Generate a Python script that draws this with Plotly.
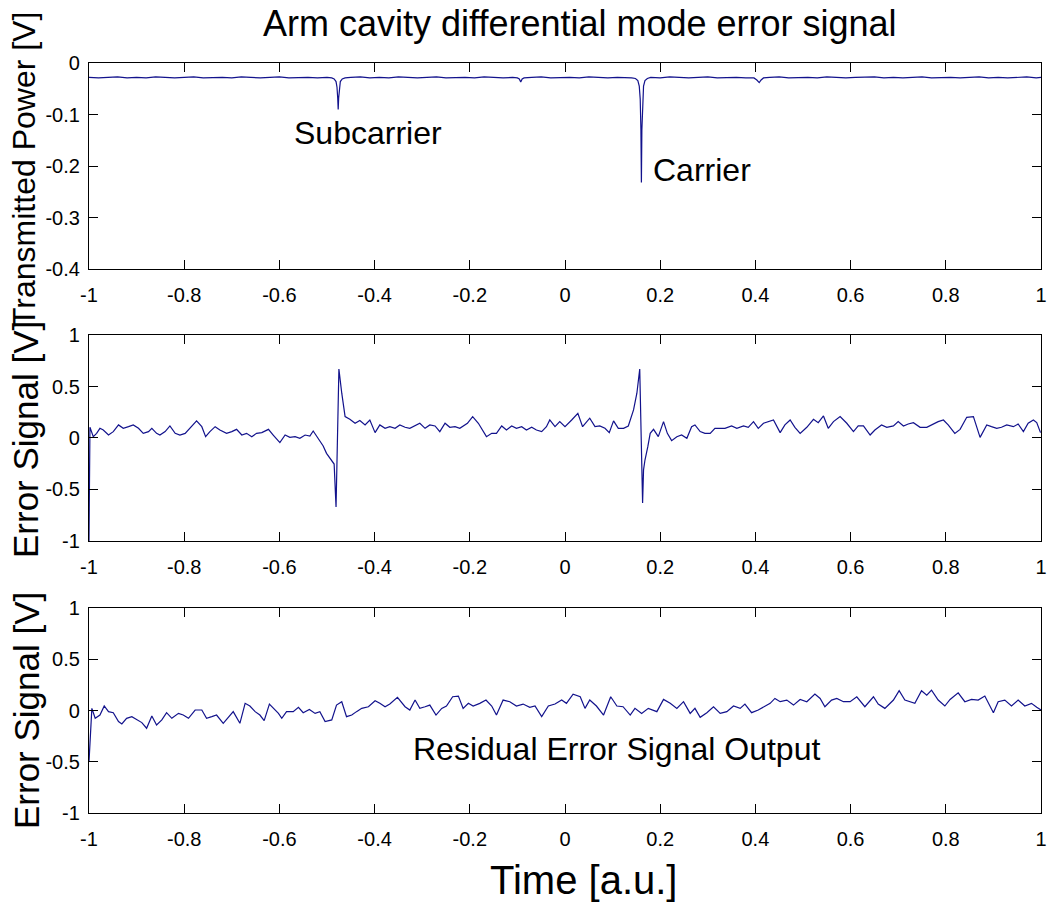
import plotly.graph_objects as go

# ---------------- data ----------------
x_tick_vals = [-1, -0.8, -0.6, -0.4, -0.2, 0, 0.2, 0.4, 0.6, 0.8, 1]
x_tick_text = ["-1", "-0.8", "-0.6", "-0.4", "-0.2", "0", "0.2", "0.4", "0.6", "0.8", "1"]
top_tick_vals = [0, -0.1, -0.2, -0.3, -0.4]
top_tick_text = ["0", "-0.1", "-0.2", "-0.3", "-0.4"]
err_tick_vals = [1, 0.5, 0, -0.5, -1]
err_tick_text = ["1", "0.5", "0", "-0.5", "-1"]

# Transmitted power trace
top_x = [-1.000, -0.980, -0.960, -0.940, -0.920, -0.900, -0.880, -0.860, -0.840, -0.820,
         -0.800, -0.780, -0.760, -0.740, -0.720, -0.700, -0.680, -0.660, -0.640, -0.620,
         -0.600, -0.580, -0.560, -0.540, -0.520, -0.500, -0.490, -0.485, -0.481, -0.479,
         -0.4775, -0.4765, -0.4755, -0.474, -0.472, -0.468, -0.462, -0.450, -0.430, -0.410,
         -0.390, -0.370, -0.350, -0.330, -0.310, -0.290, -0.270, -0.250, -0.230, -0.210,
         -0.190, -0.170, -0.150, -0.130, -0.110, -0.100, -0.096, -0.093, -0.090, -0.086,
         -0.070, -0.050, -0.030, -0.010, 0.010, 0.030, 0.050, 0.070, 0.090, 0.110,
         0.130, 0.140, 0.148, 0.153, 0.156, 0.158, 0.1595, 0.1605, 0.1615, 0.163,
         0.165, 0.168, 0.173, 0.180, 0.200, 0.220, 0.240, 0.260, 0.280, 0.300,
         0.320, 0.340, 0.360, 0.380, 0.397, 0.403, 0.408, 0.412, 0.417, 0.430,
         0.450, 0.470, 0.490, 0.510, 0.530, 0.550, 0.570, 0.590, 0.610, 0.630,
         0.650, 0.670, 0.690, 0.710, 0.730, 0.750, 0.770, 0.790, 0.810, 0.830,
         0.850, 0.870, 0.890, 0.910, 0.930, 0.950, 0.970, 0.990, 1.000]
top_y = [-0.028, -0.029, -0.028, -0.027, -0.029, -0.028, -0.029, -0.027, -0.028, -0.029,
         -0.028, -0.027, -0.029, -0.028, -0.028, -0.029, -0.027, -0.028, -0.029, -0.028,
         -0.027, -0.029, -0.028, -0.028, -0.029, -0.028, -0.029, -0.031, -0.036, -0.047,
         -0.068, -0.090, -0.068, -0.047, -0.036, -0.031, -0.029, -0.028, -0.027, -0.029,
         -0.028, -0.029, -0.027, -0.028, -0.029, -0.028, -0.027, -0.029, -0.028, -0.028,
         -0.029, -0.027, -0.028, -0.029, -0.028, -0.029, -0.031, -0.037, -0.031, -0.029,
         -0.028, -0.027, -0.029, -0.028, -0.028, -0.029, -0.027, -0.028, -0.029, -0.028,
         -0.028, -0.029, -0.030, -0.034, -0.045, -0.070, -0.130, -0.232, -0.130, -0.070,
         -0.045, -0.034, -0.030, -0.028, -0.029, -0.027, -0.028, -0.029, -0.028, -0.027,
         -0.029, -0.028, -0.028, -0.029, -0.029, -0.033, -0.038, -0.033, -0.029, -0.028,
         -0.027, -0.029, -0.028, -0.028, -0.029, -0.027, -0.028, -0.029, -0.028, -0.028,
         -0.027, -0.029, -0.028, -0.029, -0.028, -0.027, -0.029, -0.028, -0.028, -0.029,
         -0.028, -0.027, -0.029, -0.028, -0.029, -0.028, -0.027, -0.029, -0.028]

# Error signal (unlocked)
mid_x = [-1.000, -0.998, -0.991, -0.984, -0.977, -0.970, -0.959, -0.949, -0.938, -0.928,
         -0.917, -0.907, -0.896, -0.886, -0.875, -0.868, -0.858, -0.851, -0.840, -0.830,
         -0.819, -0.809, -0.798, -0.788, -0.774, -0.763, -0.755, -0.746, -0.735, -0.725,
         -0.711, -0.700, -0.690, -0.679, -0.669, -0.658, -0.648, -0.637, -0.623, -0.613,
         -0.599, -0.588, -0.578, -0.567, -0.557, -0.546, -0.536, -0.529, -0.518, -0.508,
         -0.501, -0.492, -0.485, -0.481, -0.475, -0.469, -0.462, -0.452, -0.441, -0.431,
         -0.420, -0.410, -0.399, -0.389, -0.378, -0.368, -0.357, -0.347,
         -0.336, -0.326, -0.315, -0.305, -0.294, -0.284, -0.273, -0.263, -0.252, -0.242,
         -0.231, -0.221, -0.205, -0.194, -0.182, -0.165, -0.154, -0.144, -0.133, -0.123,
         -0.112, -0.102, -0.091, -0.081, -0.070, -0.060, -0.049, -0.039, -0.032, -0.021,
         -0.011, 0.000, 0.014, 0.027, 0.037, 0.052, 0.063, 0.073, 0.084, 0.093,
         0.102, 0.112, 0.123, 0.133, 0.144, 0.151, 0.157, 0.163, 0.165, 0.168,
         0.174, 0.179, 0.186, 0.196, 0.207, 0.215, 0.224, 0.235, 0.245, 0.256,
         0.266, 0.273,
         0.284, 0.294, 0.305, 0.315, 0.326, 0.336, 0.350, 0.361, 0.375, 0.385,
         0.396, 0.406, 0.417, 0.427, 0.438, 0.452, 0.462, 0.473, 0.483, 0.494,
         0.508, 0.522, 0.532, 0.543, 0.553, 0.564, 0.578, 0.592, 0.606, 0.616,
         0.627, 0.641, 0.651, 0.665, 0.676, 0.690, 0.700, 0.711, 0.721, 0.732,
         0.746, 0.760, 0.774, 0.784, 0.795, 0.805, 0.819, 0.830, 0.844, 0.858,
         0.872, 0.886, 0.896, 0.907, 0.917, 0.928, 0.942, 0.952, 0.963, 0.973,
         0.984, 0.991, 0.999]
mid_y = [-1.000, 0.104, 0.013, 0.045, 0.094, 0.078, 0.029, 0.062, 0.127, 0.094,
         0.110, 0.127, 0.094, 0.045, 0.062, 0.094, 0.045, 0.029, 0.062, 0.117,
         0.045, 0.029, 0.045, 0.094, 0.166, 0.110, 0.013, 0.062, 0.110, 0.078,
         0.045, 0.062, 0.084, 0.029, 0.045, 0.013, 0.045, 0.052, 0.084, 0.029,
         -0.045, 0.029, 0.006, 0.013, -0.003, 0.029, 0.019, 0.068, -0.003, -0.078,
         -0.149, -0.214, -0.253, -0.669, 0.669, 0.435, 0.208, 0.182, 0.143, 0.169,
         0.127, 0.175, 0.052, 0.127, 0.094, 0.110, 0.094, 0.127,
         0.104, 0.094, 0.117, 0.143, 0.094, 0.127, 0.117, 0.062, 0.143, 0.104,
         0.110, 0.094, 0.143, 0.208, 0.143, 0.013, 0.045, 0.045, 0.117, 0.078,
         0.117, 0.094, 0.110, 0.078, 0.104, 0.078, 0.062, 0.110, 0.175, 0.110,
         0.159, 0.110, 0.175, 0.240, 0.110, 0.192, 0.110, 0.117, 0.094, 0.052,
         0.166, 0.094, 0.094, 0.117, 0.273, 0.435, 0.669, -0.630, -0.310, -0.214,
         -0.084, 0.045, 0.084, 0.013, 0.159, 0.045, -0.026, 0.013, 0.029, -0.003,
         0.110, 0.127,
         0.062, 0.045, 0.045, 0.094, 0.094, 0.094, 0.117, 0.094, 0.117, 0.104,
         0.159, 0.094, 0.143, 0.159, 0.175, 0.052, 0.127, 0.175, 0.104, 0.045,
         0.104, 0.182, 0.149, 0.214, 0.094, 0.159, 0.208, 0.143, 0.062, 0.117,
         0.117, 0.029, 0.078, 0.127, 0.104, 0.117, 0.159, 0.117, 0.136, 0.149,
         0.104, 0.104, 0.136, 0.159, 0.175, 0.127, 0.045, 0.084, 0.201, 0.208,
         0.006, 0.127, 0.110, 0.094, 0.104, 0.127, 0.110, 0.136, 0.062, 0.143,
         0.175, 0.149, 0.052]

# Residual error signal (locked)
bot_x = [-1.000, -0.994, -0.987, -0.977, -0.968, -0.959, -0.949, -0.938, -0.931, -0.921,
         -0.910, -0.900, -0.889, -0.879, -0.868, -0.858, -0.847, -0.837, -0.826, -0.812,
         -0.802, -0.791, -0.777, -0.763, -0.753, -0.742, -0.732, -0.718, -0.707, -0.697,
         -0.683, -0.672, -0.662, -0.651, -0.641, -0.632, -0.621, -0.613, -0.602, -0.595,
         -0.585, -0.571, -0.560, -0.550, -0.537, -0.525, -0.515, -0.504, -0.490, -0.480,
         -0.469, -0.459, -0.448, -0.438, -0.427, -0.413, -0.399, -0.389, -0.378, -0.368,
         -0.352,
         -0.336, -0.326, -0.315, -0.305, -0.294, -0.284, -0.271, -0.259, -0.249, -0.236,
         -0.224, -0.214, -0.203, -0.193, -0.179, -0.166, -0.154, -0.144, -0.130, -0.116,
         -0.102, -0.088, -0.074, -0.063, -0.049, -0.035, -0.021, -0.007, 0.003, 0.017,
         0.032, 0.042, 0.052, 0.066, 0.081, 0.096, 0.109, 0.122, 0.137, 0.147,
         0.161, 0.175, 0.193, 0.207, 0.221, 0.235, 0.249, 0.263, 0.273, 0.284,
         0.298, 0.312,
         0.326, 0.340, 0.354, 0.368, 0.378, 0.392, 0.406, 0.417, 0.431, 0.441,
         0.452, 0.466, 0.480, 0.494, 0.508, 0.525, 0.536, 0.546, 0.560, 0.571,
         0.585, 0.599, 0.613, 0.630, 0.648, 0.658, 0.672, 0.690, 0.702, 0.714,
         0.725, 0.735, 0.749, 0.760, 0.770, 0.784, 0.798, 0.809, 0.826, 0.840,
         0.854, 0.868, 0.882, 0.893, 0.900, 0.910, 0.924, 0.938, 0.952, 0.966,
         0.980, 0.991, 1.000]
bot_y = [-0.500, 0.021, -0.076, -0.044, 0.044, -0.011, -0.021, -0.108, -0.131, -0.076,
         -0.060, -0.086, -0.118, -0.173, -0.053, -0.141, -0.092, -0.021, -0.076, -0.028,
         -0.044, -0.076, 0.005, 0.005, -0.076, -0.060, -0.044, -0.125, -0.060, -0.011,
         -0.125, 0.070, 0.044, -0.011, -0.044, -0.099, 0.063, 0.021, -0.028, -0.076,
         -0.011, -0.011, 0.031, -0.021, 0.011, -0.028, -0.011, -0.108, -0.092, 0.053,
         0.086, -0.060, -0.044, -0.011, 0.021, 0.037, 0.095, 0.070, 0.037, 0.063,
         0.128,
         0.037, 0.005, 0.102, 0.021, 0.037, 0.053, -0.044, 0.021, 0.044, 0.134,
         0.141, 0.021, 0.070, 0.044, 0.070, 0.102, 0.044, -0.044, 0.102, 0.086,
         0.044, 0.063, 0.031, 0.044, -0.060, 0.044, 0.063, 0.102, 0.070, 0.160,
         0.134, 0.021, 0.102, 0.044, -0.044, 0.134, 0.044, 0.037, -0.044, 0.021,
         -0.028, 0.021, -0.011, 0.108, 0.070, 0.021, 0.086, -0.028, 0.021, -0.066,
         -0.021, 0.037,
         -0.028, -0.011, 0.044, 0.021, 0.063, -0.021, 0.005, 0.037, 0.070, 0.118,
         0.086, 0.102, 0.053, 0.108, 0.086, 0.160, 0.118, 0.037, 0.102, 0.118,
         0.086, 0.086, 0.134, 0.037, 0.134, 0.063, 0.021, 0.102, 0.193, 0.102,
         0.086, 0.070, 0.193, 0.150, 0.199, 0.102, 0.044, 0.108, 0.173, 0.086,
         0.108, 0.102, 0.141, 0.037, -0.021, 0.086, 0.102, 0.044, 0.102, 0.044,
         0.070, 0.031, 0.005]

# ---------------- figure ----------------
LINE = dict(color="#12128c", width=1.2)
FONT = "Liberation Sans, Arial, Helvetica, sans-serif"

fig = go.Figure()
fig.add_trace(go.Scatter(x=top_x, y=top_y, mode="lines", line=LINE, xaxis="x", yaxis="y", showlegend=False))
fig.add_trace(go.Scatter(x=mid_x, y=mid_y, mode="lines", line=LINE, xaxis="x2", yaxis="y2", showlegend=False))
fig.add_trace(go.Scatter(x=bot_x, y=bot_y, mode="lines", line=LINE, xaxis="x3", yaxis="y3", showlegend=False))

common = dict(showline=True, linecolor="black", linewidth=1.3, mirror="allticks",
              ticks="inside", ticklen=9, tickwidth=1, tickcolor="black",
              showgrid=False, zeroline=False, automargin=False,
              tickfont=dict(family=FONT, size=20, color="black"))

xcommon = dict(common, range=[-1, 1], tickmode="array", tickvals=x_tick_vals,
               ticktext=x_tick_text, ticklabelstandoff=8)

d_top = [0.7253, 1.0]
d_mid = [0.3627, 0.6373]
d_bot = [0.0, 0.2733]

fig.update_layout(
    width=1049, height=904,
    margin=dict(l=89, r=8, t=63, b=91, autoexpand=False),
    paper_bgcolor="white", plot_bgcolor="white",
    xaxis=dict(xcommon, domain=[0, 1], anchor="y"),
    yaxis=dict(common, domain=d_top, anchor="x", range=[-0.4, 0], tickmode="array",
               tickvals=top_tick_vals, ticktext=top_tick_text, ticklabelstandoff=4),
    xaxis2=dict(xcommon, domain=[0, 1], anchor="y2"),
    yaxis2=dict(common, domain=d_mid, anchor="x2", range=[-1, 1], tickmode="array",
                tickvals=err_tick_vals, ticktext=err_tick_text, ticklabelstandoff=4),
    xaxis3=dict(xcommon, domain=[0, 1], anchor="y3"),
    yaxis3=dict(common, domain=d_bot, anchor="x3", range=[-1, 1], tickmode="array",
                tickvals=err_tick_vals, ticktext=err_tick_text, ticklabelstandoff=4),
)

def paper_y(py):
    return (813 - py) / 750.0

def paper_x(px):
    return (px - 89) / 952.0

annotations = [
    dict(text="Arm cavity differential mode error signal", xref="paper", yref="paper",
         x=paper_x(579.5), y=paper_y(23), xanchor="center", yanchor="middle",
         showarrow=False, font=dict(family=FONT, size=36, color="black")),
    dict(text="Time [a.u.]", xref="paper", yref="paper",
         x=paper_x(583), y=paper_y(880), xanchor="center", yanchor="middle",
         showarrow=False, font=dict(family=FONT, size=40, color="black")),
    dict(text="Transmitted Power [V]", xref="paper", yref="paper",
         x=paper_x(24), y=paper_y(170), xanchor="center", yanchor="middle", textangle=-90,
         showarrow=False, font=dict(family=FONT, size=32, color="black")),
    dict(text="Error Signal [V]", xref="paper", yref="paper",
         x=paper_x(26), y=paper_y(440), xanchor="center", yanchor="middle", textangle=-90,
         showarrow=False, font=dict(family=FONT, size=35, color="black")),
    dict(text="Error Signal [V]", xref="paper", yref="paper",
         x=paper_x(26), y=paper_y(711), xanchor="center", yanchor="middle", textangle=-90,
         showarrow=False, font=dict(family=FONT, size=35, color="black")),
    dict(text="Subcarrier", xref="x", yref="y", x=-0.414, y=-0.136,
         xanchor="center", yanchor="middle", showarrow=False,
         font=dict(family=FONT, size=32, color="black")),
    dict(text="Carrier", xref="x", yref="y", x=0.287, y=-0.208,
         xanchor="center", yanchor="middle", showarrow=False,
         font=dict(family=FONT, size=32, color="black")),
    dict(text="Residual Error Signal Output", xref="x3", yref="y3", x=0.109, y=-0.376,
         xanchor="center", yanchor="middle", showarrow=False,
         font=dict(family=FONT, size=32, color="black")),
]
fig.update_layout(annotations=annotations)

fig.write_html("out.html")
